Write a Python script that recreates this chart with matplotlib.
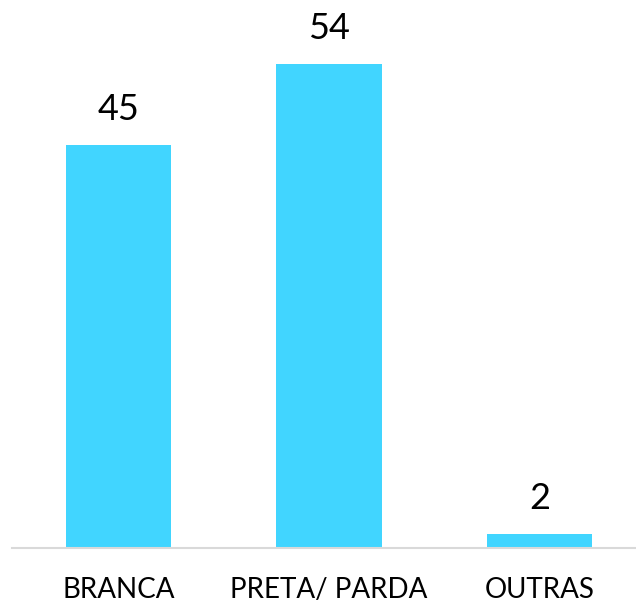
import matplotlib
matplotlib.use("Agg")
import matplotlib.pyplot as plt

categories = ["BRANCA", "PRETA/ PARDA", "OUTRAS"]
values = [45, 54, 1.6]
labels = ["45", "54", "2"]

plt.rcParams['font.family'] = ['Lato', 'DejaVu Sans']

fig = plt.figure(figsize=(6.36, 6.05), dpi=100)
ax = fig.add_axes([12/636, 57/605, 624/636, 548/605])
x = range(len(categories))
bars = ax.bar(x, values, width=0.5, color="#41D5FF")
for xi, v, lab in zip(x, values, labels):
    ax.annotate(lab, (xi, v), xytext=(0, 19), textcoords="offset pixels",
                ha="center", va="bottom", fontsize=26, color="black")
ax.set_xlim(-0.506, 2.458)
ax.set_ylim(0, 61.16)
ax.set_yticks([])
ax.set_xticks(list(x))
ax.set_xticklabels(categories, fontsize=20)
ax.tick_params(axis="x", length=0, pad=21)
for s in ["top", "right", "left"]:
    ax.spines[s].set_visible(False)
ax.spines["bottom"].set_color("#D9D9D9")
ax.spines["bottom"].set_linewidth(1.5)
fig.savefig("out.png", dpi=100)
